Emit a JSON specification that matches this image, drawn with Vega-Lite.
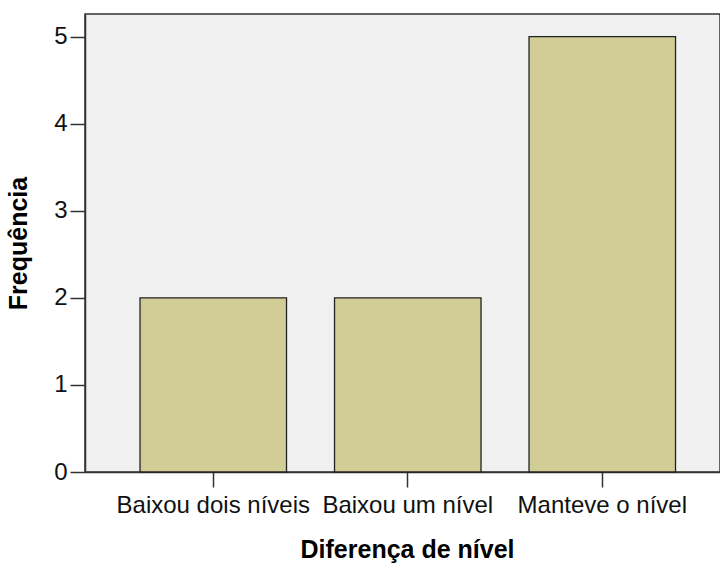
{
  "$schema": "https://vega.github.io/schema/vega-lite/v6.json",
  "autosize": "none",
  "width": 635,
  "height": 458,
  "padding": {"left": 85, "top": 14, "right": 0, "bottom": 92},
  "background": "white",
  "view": {"fill": "#f0f0f0", "stroke": "#333333", "strokeWidth": 1.5},
  "data": {"values": [
    {"nivel": "Baixou dois níveis", "freq": 2},
    {"nivel": "Baixou um nível", "freq": 2},
    {"nivel": "Manteve o nível", "freq": 5}
  ]},
  "mark": {"type": "bar", "fill": "#d2cd96", "stroke": "#222222", "strokeWidth": 1.3},
  "encoding": {
    "x": {
      "field": "nivel", "type": "nominal", "sort": null,
      "scale": {"paddingInner": 0.2468, "paddingOuter": 0.2558, "align": 0.553},
      "axis": {
        "title": "Diferença de nível",
        "titleFont": "Liberation Sans", "titleFontSize": 25, "titleFontWeight": "bold", "titleColor": "#000000",
        "titlePadding": 20, "titleX": 322, "titleAnchor": "middle",
        "labelFont": "Liberation Sans", "labelFontSize": 24, "labelColor": "#111111", "labelAngle": 0, "labelPadding": 6,
        "labelOverlap": false, "labelLimit": 0, "labelFlush": false,
        "tickSize": 15, "tickColor": "#333333", "tickWidth": 1.5,
        "domainColor": "#333333", "domainWidth": 1.5, "grid": false
      }
    },
    "y": {
      "field": "freq", "type": "quantitative",
      "scale": {"domain": [0, 5.26], "nice": false},
      "axis": {
        "title": "Frequência",
        "titleFont": "Liberation Sans", "titleFontSize": 25, "titleFontWeight": "bold", "titleColor": "#000000",
        "titlePadding": 22,
        "values": [0, 1, 2, 3, 4, 5], "format": "d",
        "labelFont": "Liberation Sans", "labelFontSize": 24, "labelColor": "#111111", "labelPadding": 3,
        "labelFlush": false, "labelOverlap": false,
        "tickSize": 15, "tickColor": "#333333", "tickWidth": 1.5,
        "domainColor": "#333333", "domainWidth": 1.5, "grid": false
      }
    }
  }
}
